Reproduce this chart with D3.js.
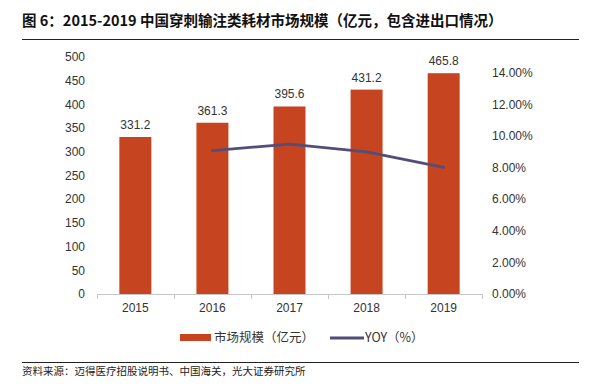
<!DOCTYPE html>
<html>
<head>
<meta charset="utf-8">
<script src="https://cdn.jsdelivr.net/npm/d3@7"></script>
<style>
  body { margin: 0; background: #fff; }
  text { font-family: "Liberation Sans", Arial, sans-serif; }
  .cjk { font-family: "Noto Sans CJK SC", "Noto Sans", sans-serif; }
</style>
</head>
<body>
<svg id="chart" width="594" height="387"></svg>
<script>
// data
var years = ['2015', '2016', '2017', '2018', '2019'];
var marketSize = [331.2, 361.3, 395.6, 431.2, 465.8];
var yoyYears = ['2016', '2017', '2018', '2019'];
var yoy = [9.09, 9.50, 9.00, 8.02];
var leftTicks = [0, 50, 100, 150, 200, 250, 300, 350, 400, 450, 500];
var rightTicks = [0, 2, 4, 6, 8, 10, 12, 14];

var barColor = '#C6441F';
var lineColor = '#534D7A';

var svg = d3.select('#chart');

// title
svg.append('text')
  .attr('class', 'cjk')
  .attr('x', 22)
  .attr('y', 26)
  .style('font-size', '14.5px')
  .style('font-weight', 'bold')
  .style('fill', '#111')
  .text('图 6：2015-2019 中国穿刺输注类耗材市场规模（亿元，包含进出口情况）');

svg.append('line')
  .attr('x1', 22).attr('x2', 579)
  .attr('y1', 39.5).attr('y2', 39.5)
  .style('stroke', '#222')
  .style('stroke-width', 1);

var scaleX = d3.scaleBand()
  .domain(years)
  .range([97, 482])
  .paddingInner(0.585)
  .paddingOuter(0.29);

var scaleY = d3.scaleLinear()
  .domain([0, 500])
  .range([294, 57]);

var scaleY2 = d3.scaleLinear()
  .domain([0, 14])
  .range([294, 73]);

// left axis labels
svg.append('g')
  .selectAll('text')
  .data(leftTicks)
  .enter()
  .append('text')
  .attr('x', 85)
  .attr('y', function(d){ return scaleY(d); })
  .attr('dy', '0.35em')
  .attr('text-anchor', 'end')
  .style('font-size', '12px')
  .style('fill', '#333')
  .text(function(d){ return d; });

// right axis labels
svg.append('g')
  .selectAll('text')
  .data(rightTicks)
  .enter()
  .append('text')
  .attr('x', 492)
  .attr('y', function(d){ return scaleY2(d); })
  .attr('dy', '0.35em')
  .attr('text-anchor', 'start')
  .style('font-size', '12px')
  .style('fill', '#333')
  .text(function(d){ return d.toFixed(2) + '%'; });

// bars
svg.append('g')
  .selectAll('rect')
  .data(marketSize)
  .enter()
  .append('rect')
  .attr('x', function(d, i){ return scaleX(years[i]); })
  .attr('y', function(d){ return scaleY(d); })
  .attr('width', scaleX.bandwidth())
  .attr('height', function(d){ return scaleY(0) - scaleY(d); })
  .style('fill', barColor);

// bar labels
svg.append('g')
  .selectAll('text')
  .data(marketSize)
  .enter()
  .append('text')
  .attr('x', function(d, i){ return scaleX(years[i]) + scaleX.bandwidth() / 2; })
  .attr('y', function(d){ return scaleY(d) - 8; })
  .attr('text-anchor', 'middle')
  .style('font-size', '12px')
  .style('fill', '#333')
  .text(function(d){ return d.toFixed(1); });

// x axis
var xAxis = d3.axisBottom(scaleX).tickSize(0).tickPadding(9);
var gx = svg.append('g')
  .attr('transform', 'translate(0,294)')
  .call(xAxis);
gx.select('.domain').remove();
gx.selectAll('text')
  .style('font-family', '"Liberation Sans", Arial, sans-serif')
  .style('font-size', '12px')
  .style('fill', '#333');

svg.append('line')
  .attr('x1', 97).attr('x2', 482)
  .attr('y1', 294.5).attr('y2', 294.5)
  .style('stroke', '#c8c8c8')
  .style('stroke-width', 1);

var bounds = years.map(function(d){ return scaleX(d) - scaleX.step() * scaleX.paddingInner() / 2; });
bounds.push(482);
bounds[0] = 97;
svg.append('g')
  .selectAll('line')
  .data(bounds)
  .enter()
  .append('line')
  .attr('x1', function(d){ return Math.round(d) + 0.5; })
  .attr('x2', function(d){ return Math.round(d) + 0.5; })
  .attr('y1', 294)
  .attr('y2', 299)
  .style('stroke', '#c8c8c8');

// YOY line
var line = d3.line()
  .x(function(d, i){ return scaleX(yoyYears[i]) + scaleX.bandwidth() / 2; })
  .y(function(d){ return scaleY2(d); });

svg.append('path')
  .datum(yoy)
  .attr('d', line)
  .style('fill', 'none')
  .style('stroke', lineColor)
  .style('stroke-width', 2.75)
  .style('stroke-linecap', 'round')
  .style('stroke-linejoin', 'round');

// legend
svg.append('rect')
  .attr('x', 180).attr('y', 334)
  .attr('width', 31).attr('height', 7)
  .style('fill', barColor);
svg.append('text')
  .attr('class', 'cjk')
  .attr('x', 214).attr('y', 338)
  .attr('dy', '0.35em')
  .style('font-size', '12.5px')
  .style('fill', '#333')
  .text('市场规模（亿元）');

svg.append('line')
  .attr('x1', 330).attr('x2', 364)
  .attr('y1', 338).attr('y2', 338)
  .style('stroke', lineColor)
  .style('stroke-width', 3);
svg.append('text')
  .attr('class', 'cjk')
  .attr('x', 365).attr('y', 338)
  .attr('dy', '0.35em')
  .style('font-size', '12.5px')
  .style('fill', '#333')
  .text('YOY（%）');

// source
svg.append('line')
  .attr('x1', 22).attr('x2', 579)
  .attr('y1', 362.5).attr('y2', 362.5)
  .style('stroke', '#222')
  .style('stroke-width', 1);
svg.append('text')
  .attr('class', 'cjk')
  .attr('x', 22).attr('y', 371)
  .attr('dy', '0.35em')
  .style('font-size', '10.5px')
  .style('fill', '#222')
  .text('资料来源：迈得医疗招股说明书、中国海关，光大证券研究所');
</script>
</body>
</html>
